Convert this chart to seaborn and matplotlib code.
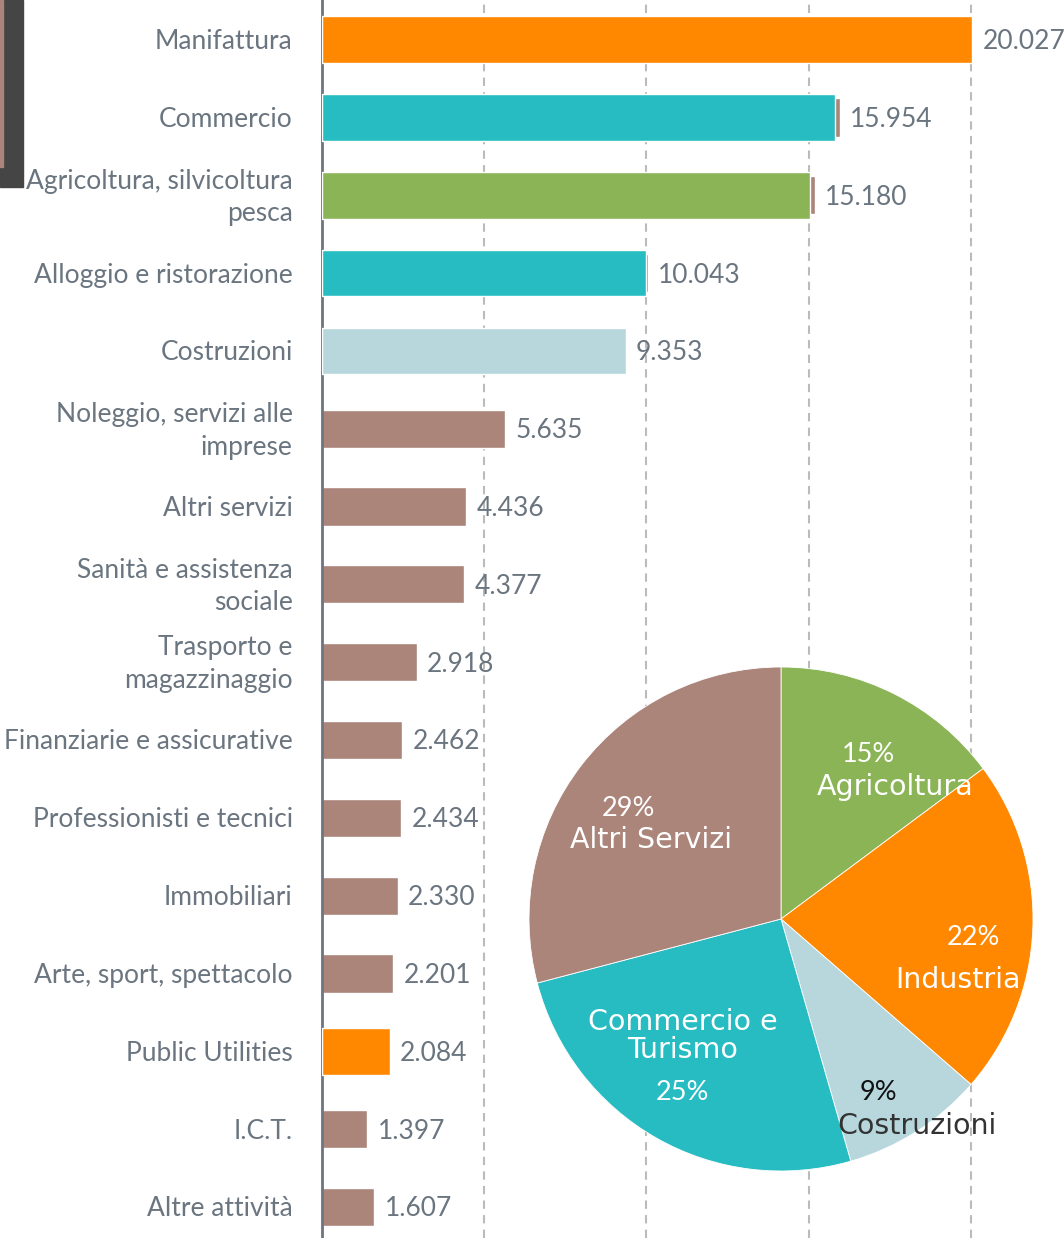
import numpy as np
import pandas as pd
import seaborn as sns
import matplotlib.pyplot as plt
import matplotlib.transforms as mtransforms
from matplotlib.patches import Rectangle

# dati: addetti per settore
categorie = ["Manifattura", "Commercio", "Agricoltura, silvicoltura\npesca",
             "Alloggio e ristorazione", "Costruzioni", "Noleggio, servizi alle\nimprese",
             "Altri servizi", "Sanità e assistenza\nsociale", "Trasporto e\nmagazzinaggio",
             "Finanziarie e assicurative", "Professionisti e tecnici", "Immobiliari",
             "Arte, sport, spettacolo", "Public Utilities", "I.C.T.", "Altre attività"]
addetti = [20027, 15954, 15180, 10043, 9353, 5635, 4436, 4377, 2918,
           2462, 2434, 2330, 2201, 2084, 1397, 1607]

# barre colorate sovrapposte (settori evidenziati)
evid_categorie = ["Manifattura", "Commercio", "Agricoltura, silvicoltura\npesca",
                  "Alloggio e ristorazione", "Costruzioni", "Public Utilities"]
evid_valori = [20027, 15800, 15030, 10000, 9353, 2084]
evid_colori = ["#FF8800", "#27BCC2", "#8BB457", "#27BCC2", "#B7D7DC", "#FF8800"]

# torta per macro settore
macro_etichette = ["Agricoltura", "Industria", "Costruzioni", "Commercio e\nTurismo", "Altri Servizi"]
macro_valori = [15180, 22111, 9353, 25997, 29797]
macro_colori = ["#8BB457", "#FF8800", "#B7D7DC", "#27BCC2", "#AB847A"]

MARRONE = "#AB847A"
GRIGIO = "#6A7580"

sns.set_theme(style="white")
plt.rcParams['font.family'] = ['Lato', 'DejaVu Sans']

fig = plt.figure(figsize=(10.64, 12.38), dpi=100)
ax = fig.add_axes([322 / 1064, 0, 742 / 1064, 1])
giu = mtransforms.ScaledTranslation(0, -2 / 100, fig.dpi_scale_trans)

df = pd.DataFrame({"settore": categorie, "addetti": addetti})
df_ev = pd.DataFrame({"settore": evid_categorie, "addetti": evid_valori})

# griglia dietro le barre
for g in [5000, 10000, 15000, 20000]:
    ax.axvline(g, color="#BBBBBB", lw=1.5, ls=(0, (4, 3)), zorder=0)

sns.barplot(data=df, x="addetti", y="settore", order=categorie, color=MARRONE,
            saturation=1, width=0.49, ax=ax, zorder=2)
sns.barplot(data=df_ev, x="addetti", y="settore", order=categorie, hue="settore",
            palette=dict(zip(evid_categorie, evid_colori)), saturation=1,
            width=0.6, legend=False, ax=ax, zorder=3)

# etichette valori
for i, v in enumerate(addetti):
    ax.text(v + 320, i, f"{v:,}".replace(",", "."), va="center", ha="left",
            fontsize=19, color=GRIGIO, zorder=4, transform=ax.transData + giu)

ax.set_xlim(0, 22866)
ax.set_ylim(15.4, -0.51)
ax.set_xlabel("")
ax.set_ylabel("")
ax.set_xticks([])
ax.set_yticks(range(len(categorie)))
ax.set_yticklabels(categorie, fontsize=19, color=GRIGIO, linespacing=1.38, va="center")
ax.tick_params(axis="y", length=0, pad=21)
for lbl in ax.get_yticklabels():
    lbl.set_transform(lbl.get_transform() + giu)
for s in ["top", "right", "bottom"]:
    ax.spines[s].set_visible(False)
ax.spines["left"].set_color(GRIGIO)
ax.spines["left"].set_linewidth(2)
ax.set_facecolor("none")

# torta
axp = fig.add_axes([529 / 1064, 67 / 1238, 504 / 1064, 504 / 1238])
axp.pie(macro_valori, colors=macro_colori, startangle=90, counterclock=False,
        wedgeprops=dict(edgecolor="white", linewidth=0.6))
axp.set_xlim(-1, 1)
axp.set_ylim(-1, 1)
axp.set_aspect("equal")
axp.axis("off")

totale = sum(macro_valori)
pos_pct = [(0.345, 0.651), (0.762, -0.075), (0.385, -0.687), (-0.393, -0.687), (-0.607, 0.44)]
pos_nome = [(0.452, 0.524), (0.702, -0.242), (0.54, -0.821), (-0.389, -0.464), (-0.516, 0.313)]
col_testo = ["white", "white", "#111111", "white", "white"]
col_nome = ["white", "white", "#333333", "white", "white"]
for k, (et, v) in enumerate(zip(macro_etichette, macro_valori)):
    axp.text(*pos_pct[k], f"{round(100 * v / totale)}%", ha="center", va="center",
             fontsize=19.5, color=col_testo[k])
    axp.text(*pos_nome[k], et, ha="center", va="center", fontsize=20.5,
             family=["DejaVu Sans"], color=col_nome[k], linespacing=1.0)

# riquadro scuro in alto a sinistra
fig.patches.append(Rectangle((0, 1 - 187 / 1238), 23 / 1064, 187 / 1238,
                             transform=fig.transFigure, color="#454545", zorder=0))
fig.patches.append(Rectangle((0, 1 - 167 / 1238), 3 / 1064, 167 / 1238,
                             transform=fig.transFigure, color=MARRONE, zorder=1))

fig.savefig("out.png", dpi=100)
